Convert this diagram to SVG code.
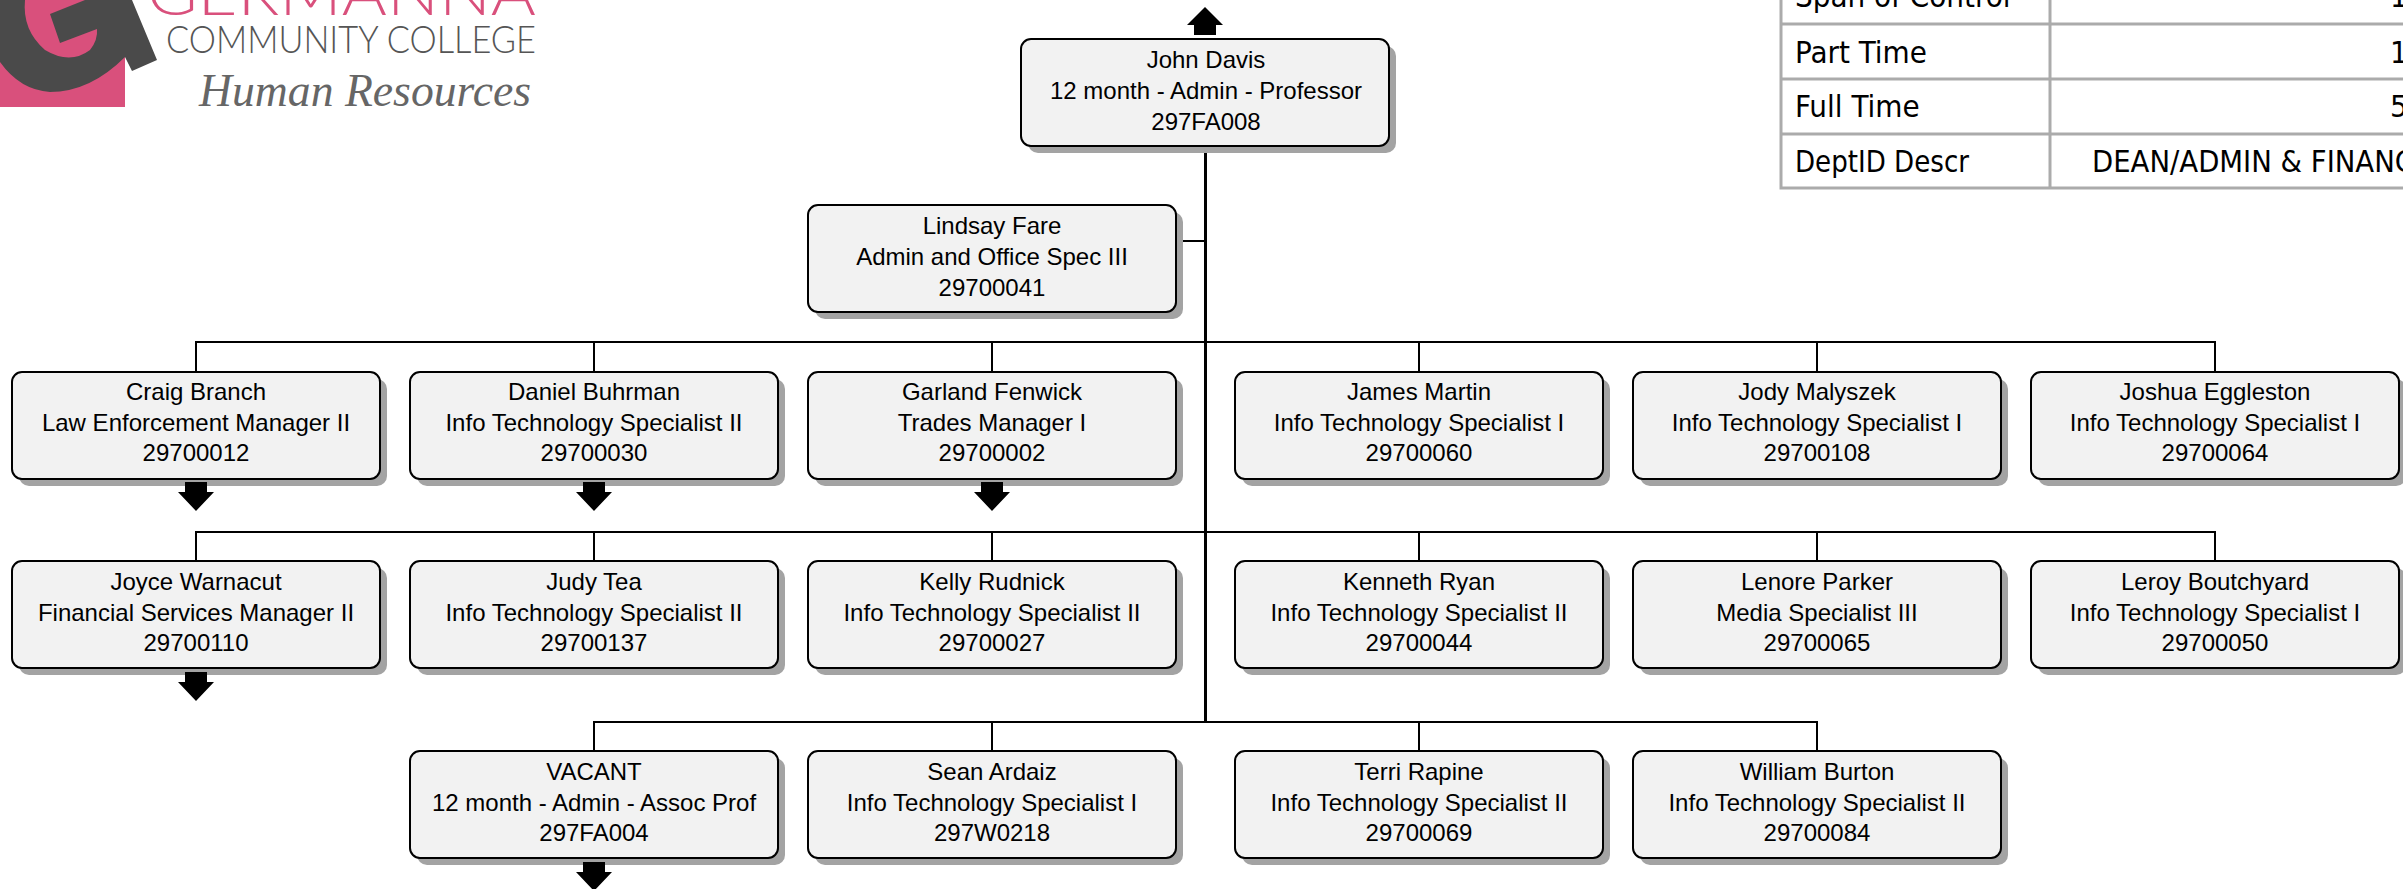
<svg xmlns="http://www.w3.org/2000/svg" width="2403" height="889" viewBox="0 0 2403 889">
<style>
.s{fill:#a3a3a3}
.b{fill:#f2f2f2;stroke:#000;stroke-width:2}
.t{font-family:"Liberation Sans",Arial,sans-serif;font-size:24px;fill:#000;text-anchor:middle}
.c{fill:none;stroke:#000;stroke-width:2}
.tb{fill:none;stroke:#ababab;stroke-width:3}
.tt{font-family:"DejaVu Sans Condensed","DejaVu Sans",sans-serif;font-size:31px;fill:#000}
.lg{font-family:Lato,"Liberation Sans",sans-serif;font-weight:300}
</style>
<defs>
<g id="box"><rect class="s" x="7" y="7" width="368" height="107" rx="10"/><rect class="b" width="368" height="107" rx="10"/></g>
<polygon id="down" points="-11,0 11,0 11,10 18,10 0,29 -18,10 -11,10"/>
</defs>
<rect width="2403" height="889" fill="#fff"/>
<g id="logo">
<rect x="0" y="50" width="125" height="57" fill="#d9507c"/>
<path d="M0,0L132,0L157,60L132,71L125,57Q90,92 50,92Q20,90 0,62Z" fill="#4a4a4a"/>
<path d="M25,0Q22,30 45,50Q70,65 90,50Q98,40 97,29L60,43L50,14L85,0Z" fill="#d9507c"/>
<text class="lg" x="147" y="15" font-size="62" fill="#d9507c" textLength="389" lengthAdjust="spacingAndGlyphs">GERMANNA</text>
<text class="lg" x="166" y="53" font-size="38" fill="#555" textLength="370" lengthAdjust="spacingAndGlyphs">COMMUNITY COLLEGE</text>
<text x="199" y="106" font-family="Liberation Serif,serif" font-style="italic" font-size="47" fill="#666" textLength="332" lengthAdjust="spacingAndGlyphs">Human Resources</text>
</g>
<g id="table">
<path class="tb" d="M1781,-5V188H2410M1781,24H2410M1781,79H2410M1781,134H2410M2050,-5V188"/>
<text class="tt" x="1795" y="7">Span of Control</text>
<text class="tt" x="1795" y="63">Part Time</text>
<text class="tt" x="1795" y="117">Full Time</text>
<text class="tt" x="1795" y="172" textLength="174" lengthAdjust="spacingAndGlyphs">DeptID Descr</text>
<text class="tt" x="2390" y="7">1</text>
<text class="tt" x="2390" y="63">1</text>
<text class="tt" x="2390" y="117">5</text>
<text class="tt" x="2092" y="172" textLength="322" lengthAdjust="spacingAndGlyphs">DEAN/ADMIN &amp; FINANC</text>
</g>
<g id="connectors">
<path class="c" style="stroke-width:3" d="M1205.5,147V722"/>
<path class="c" d="M1183,241H1205"/>
<path class="c" d="M196,372V342H2215V372M594,342V372M992,342V372M1419,342V372M1817,342V372"/>
<path class="c" d="M196,562V532H2215V562M594,532V562M992,532V562M1419,532V562M1817,532V562"/>
<path class="c" d="M594,751V722H1817V751M992,722V751M1419,722V751"/>
</g>
<g id="n-john"><use href="#box" x="1021" y="39"/><text class="t" x="1206" y="68">John Davis</text><text class="t" x="1206" y="99">12 month - Admin - Professor</text><text class="t" x="1206" y="130">297FA008</text></g>
<g id="n-lindsay"><use href="#box" x="808" y="205"/><text class="t" x="992" y="234">Lindsay Fare</text><text class="t" x="992" y="265">Admin and Office Spec III</text><text class="t" x="992" y="296">29700041</text></g>
<g id="n-craig"><use href="#box" x="12" y="372"/><text class="t" x="196" y="400">Craig Branch</text><text class="t" x="196" y="431">Law Enforcement Manager II</text><text class="t" x="196" y="461">29700012</text></g>
<g id="n-daniel"><use href="#box" x="410" y="372"/><text class="t" x="594" y="400">Daniel Buhrman</text><text class="t" x="594" y="431">Info Technology Specialist II</text><text class="t" x="594" y="461">29700030</text></g>
<g id="n-garland"><use href="#box" x="808" y="372"/><text class="t" x="992" y="400">Garland Fenwick</text><text class="t" x="992" y="431">Trades Manager I</text><text class="t" x="992" y="461">29700002</text></g>
<g id="n-james"><use href="#box" x="1235" y="372"/><text class="t" x="1419" y="400">James Martin</text><text class="t" x="1419" y="431">Info Technology Specialist I</text><text class="t" x="1419" y="461">29700060</text></g>
<g id="n-jody"><use href="#box" x="1633" y="372"/><text class="t" x="1817" y="400">Jody Malyszek</text><text class="t" x="1817" y="431">Info Technology Specialist I</text><text class="t" x="1817" y="461">29700108</text></g>
<g id="n-joshua"><use href="#box" x="2031" y="372"/><text class="t" x="2215" y="400">Joshua Eggleston</text><text class="t" x="2215" y="431">Info Technology Specialist I</text><text class="t" x="2215" y="461">29700064</text></g>
<g id="n-joyce"><use href="#box" x="12" y="561"/><text class="t" x="196" y="590">Joyce Warnacut</text><text class="t" x="196" y="621">Financial Services Manager II</text><text class="t" x="196" y="651">29700110</text></g>
<g id="n-judy"><use href="#box" x="410" y="561"/><text class="t" x="594" y="590">Judy Tea</text><text class="t" x="594" y="621">Info Technology Specialist II</text><text class="t" x="594" y="651">29700137</text></g>
<g id="n-kelly"><use href="#box" x="808" y="561"/><text class="t" x="992" y="590">Kelly Rudnick</text><text class="t" x="992" y="621">Info Technology Specialist II</text><text class="t" x="992" y="651">29700027</text></g>
<g id="n-kenneth"><use href="#box" x="1235" y="561"/><text class="t" x="1419" y="590">Kenneth Ryan</text><text class="t" x="1419" y="621">Info Technology Specialist II</text><text class="t" x="1419" y="651">29700044</text></g>
<g id="n-lenore"><use href="#box" x="1633" y="561"/><text class="t" x="1817" y="590">Lenore Parker</text><text class="t" x="1817" y="621">Media Specialist III</text><text class="t" x="1817" y="651">29700065</text></g>
<g id="n-leroy"><use href="#box" x="2031" y="561"/><text class="t" x="2215" y="590">Leroy Boutchyard</text><text class="t" x="2215" y="621">Info Technology Specialist I</text><text class="t" x="2215" y="651">29700050</text></g>
<g id="n-vacant"><use href="#box" x="410" y="751"/><text class="t" x="594" y="780">VACANT</text><text class="t" x="594" y="811">12 month - Admin - Assoc Prof</text><text class="t" x="594" y="841">297FA004</text></g>
<g id="n-sean"><use href="#box" x="808" y="751"/><text class="t" x="992" y="780">Sean Ardaiz</text><text class="t" x="992" y="811">Info Technology Specialist I</text><text class="t" x="992" y="841">297W0218</text></g>
<g id="n-terri"><use href="#box" x="1235" y="751"/><text class="t" x="1419" y="780">Terri Rapine</text><text class="t" x="1419" y="811">Info Technology Specialist II</text><text class="t" x="1419" y="841">29700069</text></g>
<g id="n-william"><use href="#box" x="1633" y="751"/><text class="t" x="1817" y="780">William Burton</text><text class="t" x="1817" y="811">Info Technology Specialist II</text><text class="t" x="1817" y="841">29700084</text></g>
<g id="arrows">
<polygon points="1194,35 1216,35 1216,25 1223,25 1205,7 1187,25 1194,25"/>
<use href="#down" x="196" y="482"/><use href="#down" x="594" y="482"/><use href="#down" x="992" y="482"/>
<use href="#down" x="196" y="672"/><use href="#down" x="594" y="862"/>
</g>
</svg>
